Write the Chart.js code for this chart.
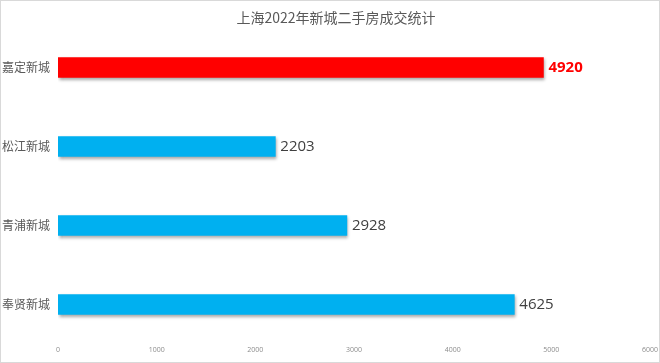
<!DOCTYPE html>
<html>
<head>
<meta charset="utf-8">
<script src="https://cdn.jsdelivr.net/npm/chart.js@4"></script>
<style>
  html, body { margin: 0; padding: 0; background: #fff; }
  #c { display: block; }
</style>
</head>
<body>
<canvas id="c" width="660" height="363"></canvas>
<script>
// data
var chartTitle = '上海2022年新城二手房成交统计';
var districts  = ['嘉定新城', '松江新城', '青浦新城', '奉贤新城'];
var deals      = [4920, 2203, 2928, 4625];
var xTicks     = [0, 1000, 2000, 3000, 4000, 5000, 6000];

var highlight = 0; // 嘉定 in red

var barColors = districts.map(function (d, i) {
    return i == highlight ? '#FF0000' : '#00B0F0';
});

// title + frame round the picture
var framePlugin = {
    id: 'frame',
    afterDraw: function (chart) {
        var ctx = chart.ctx;
        ctx.save();
        ctx.fillStyle = '#595959';
        ctx.font = '14px "Noto Sans CJK SC", sans-serif';
        ctx.textAlign = 'center';
        ctx.textBaseline = 'middle';
        ctx.fillText(chartTitle, 336, 18);
        ctx.strokeStyle = '#d9d9d9';
        ctx.lineWidth = 1;
        ctx.strokeRect(0.5, 0.5, chart.width - 1, chart.height - 1);
        ctx.restore();
    }
};

// soft shadow under bars
var shadowPlugin = {
    id: 'barShadow',
    beforeDatasetDraw: function (chart) {
        var ctx = chart.ctx;
        ctx.save();
        ctx.shadowColor = 'rgba(0,0,0,0.35)';
        ctx.shadowBlur = 3;
        ctx.shadowOffsetX = 1;
        ctx.shadowOffsetY = 2;
    },
    afterDatasetDraw: function (chart) {
        chart.ctx.restore();
    }
};

// value labels at bar ends
var valuePlugin = {
    id: 'valueLabels',
    afterDatasetsDraw: function (chart) {
        var ctx = chart.ctx;
        var meta = chart.getDatasetMeta(0);
        ctx.save();
        ctx.textBaseline = 'middle';
        ctx.textAlign = 'left';
        meta.data.forEach(function (bar, i) {
            if (i == highlight) {
                ctx.font = 'bold 15px "Open Sans", sans-serif';
                ctx.fillStyle = '#FF0000';
            } else {
                ctx.font = '15px "Open Sans", sans-serif';
                ctx.fillStyle = '#404040';
            }
            ctx.fillText(String(deals[i]), bar.x + 5, bar.y);
        });
        ctx.restore();
    }
};

var ctx = document.getElementById('c').getContext('2d');
var myChart = new Chart(ctx, {
    type: 'bar',
    data: {
        labels: districts,
        datasets: [{
            data: deals,
            backgroundColor: barColors,
            borderWidth: 0,
            barThickness: 20
        }]
    },
    options: {
        indexAxis: 'y',
        responsive: false,
        animation: false,
        layout: { padding: { top: 28, right: 10, bottom: 0 } },
        plugins: {
            legend: { display: false },
            tooltip: { enabled: false },
            title: { display: false }
        },
        scales: {
            x: {
                min: 0,
                max: 6000,
                afterBuildTicks: function (axis) {
                    axis.ticks = xTicks.map(function (v) { return { value: v }; });
                },
                afterFit: function (axis) { axis.height = 19; },
                grid: { display: false, drawTicks: false },
                border: { display: false },
                ticks: {
                    color: '#8c8c8c',
                    padding: 2,
                    maxRotation: 0,
                    font: { size: 7, family: '"Open Sans", sans-serif' },
                    callback: function (value) { return String(value); }
                }
            },
            y: {
                afterFit: function (axis) { axis.width = 58; },
                grid: { display: false, drawTicks: false },
                border: { display: false },
                ticks: {
                    color: '#595959',
                    padding: 8,
                    font: { size: 12, family: '"Noto Sans CJK SC", sans-serif' }
                }
            }
        }
    },
    plugins: [shadowPlugin, valuePlugin, framePlugin]
});
</script>
</body>
</html>
